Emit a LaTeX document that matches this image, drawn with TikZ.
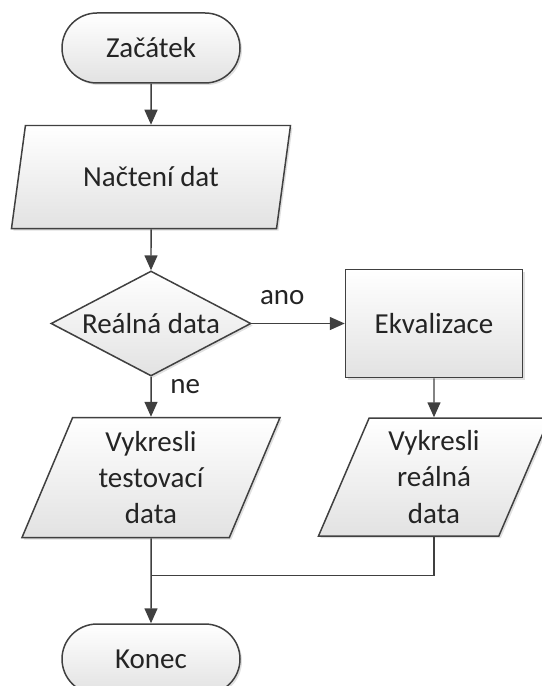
\documentclass[tikz,border=0pt]{standalone}
\usepackage{fontspec}
\setmainfont{Carlito}
\usetikzlibrary{arrows.meta,positioning,shapes.geometric,shadows}
\definecolor{flowgray}{RGB}{64,64,64}
\definecolor{textgray}{RGB}{36,36,36}
\definecolor{boxshade}{RGB}{226,226,226}
\tikzset{
  base/.style={draw=flowgray, line width=0.85pt, top color=white, bottom color=boxshade,
               text=textgray, align=center, font=\fontsize{16.5}{20.5}\selectfont,
               drop shadow={fill=black, opacity=0.12, shadow xshift=0.04cm, shadow yshift=-0.04cm}},
  termbox/.style={base, rectangle, rounded corners=0.7cm, minimum width=3.56cm, minimum height=1.4cm},
  procbox/.style={base, rectangle, minimum width=3.54cm, minimum height=2.16cm},
  iobox/.style={base, trapezium, trapezium left angle=63, trapezium right angle=117,
               trapezium stretches body, inner sep=2pt},
  decbox/.style={base, diamond, aspect=2, inner sep=0pt, minimum width=4cm, minimum height=2.1cm},
  lbl/.style={text=textgray, inner sep=0pt, font=\fontsize{16.5}{20.5}\selectfont},
  line/.style={draw=flowgray, line width=0.85pt},
  flow/.style={line, -{Triangle[length=0.3cm, width=0.26cm]}},
}
\begin{document}
\begin{tikzpicture}
  \useasboundingbox (0,0) rectangle (10.82,-13.72);
  \node[termbox] (start) at (3.02,-0.96) {Začátek};
  \node[iobox, minimum width=5.58cm, minimum height=2.06cm, below=0.82cm of start] (load) {Načtení dat};
  \node[decbox, below=0.82cm of load] (real) {Reálná data};
  \node[procbox, right=1.86cm of real] (equal) {Ekvalizace};
  \node[iobox, minimum width=5.16cm, minimum height=2.4cm, below=0.8cm of real] (testplot) {Vykresli\\testovací\\data};
  \node[iobox, minimum width=4.62cm, minimum height=2.36cm, below=0.78cm of equal] (realplot) {Vykresli\\reálná\\data};
  \coordinate[below=0.74cm of testplot] (merge);
  \node[termbox, below=1.7cm of testplot] (stop) {Konec};
  \node[lbl, above right=0.36cm and 0.16cm of real.east] (yes) {ano};
  \node[lbl, below right=0.05cm and 0.38cm of real.south] (no) {ne};

  \draw[flow] (start) -- (load);
  \draw[flow] (load) -- (real);
  \draw[flow] (real) -- (equal);
  \draw[flow] (real) -- (testplot);
  \draw[flow] (equal) -- (realplot);
  \draw[line] (realplot.south) |- (merge);
  \draw[flow] (testplot) -- (stop);
\end{tikzpicture}
\end{document}
